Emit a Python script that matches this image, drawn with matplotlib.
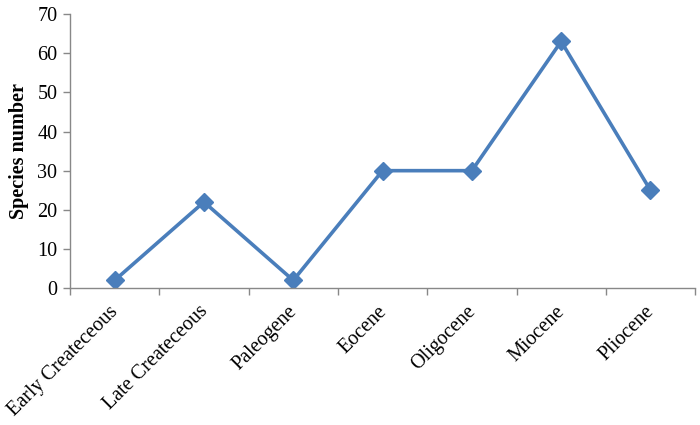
import matplotlib
matplotlib.use("Agg")
import matplotlib.pyplot as plt
import matplotlib.transforms as mtransforms
import numpy as np

periods = ["Early Createceous", "Late Createceous", "Paleogene", "Eocene",
           "Oligocene", "Miocene", "Pliocene"]
species = [2, 22, 2, 30, 30, 63, 25]

plt.rcParams["font.family"] = ["Liberation Serif", "DejaVu Serif"]

fig = plt.figure(figsize=(7, 4.25), dpi=100)
ax = fig.add_axes([0.1, 0.322, 0.893, 0.645])

x = np.arange(len(periods))
ax.plot(x, species, color="#4a7ebb", linewidth=2.6, marker="D",
        markersize=9.5, markerfacecolor="#4a7ebb", markeredgecolor="#4a7ebb")

ax.set_xlim(-0.5, len(periods) - 0.5)
ax.set_ylim(0, 70)
ax.set_yticks(np.arange(0, 71, 10))

ax.set_xticks(x)
ax.set_xticklabels(periods, rotation=45, ha="right", rotation_mode="anchor")
ax.set_xticks(np.arange(-0.5, len(periods)), minor=True)
ax.tick_params(axis="x", which="major", length=0, pad=10, labelsize=14.5)
ax.tick_params(axis="x", which="minor", length=5, color="#888888", width=1)
ax.tick_params(axis="y", length=5, color="#888888", width=1, labelsize=14.5, pad=4)

# nudge category labels a little to the left, like the original
shift = mtransforms.ScaledTranslation(-4 / 72, 0, fig.dpi_scale_trans)
for lbl in ax.get_xticklabels():
    lbl.set_transform(lbl.get_transform() + shift)

for side in ("top", "right"):
    ax.spines[side].set_visible(False)
for side in ("left", "bottom"):
    ax.spines[side].set_color("#888888")
    ax.spines[side].set_linewidth(1)

ax.set_ylabel("Species number", fontsize=14.5, fontweight="bold", labelpad=6)

fig.savefig("out.png", dpi=100)
